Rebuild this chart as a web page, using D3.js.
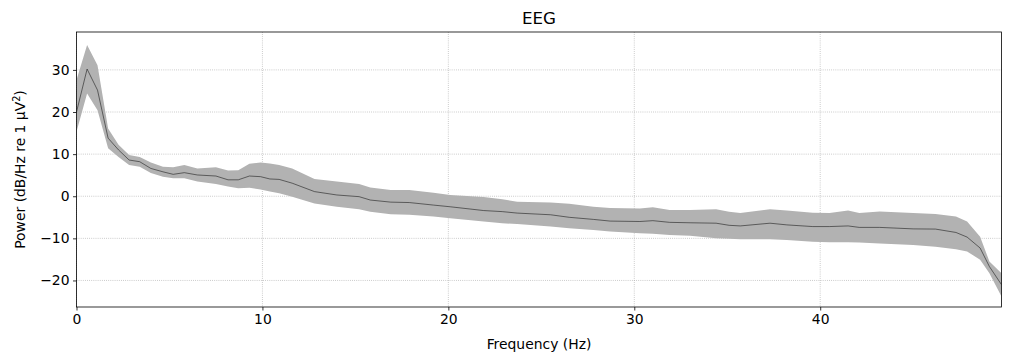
<!DOCTYPE html>
<html>
<head>
<meta charset="utf-8">
<script src="https://cdn.jsdelivr.net/npm/d3@7"></script>
<style>
  body { margin: 0; background: #fff; }
  svg text { font-family: "DejaVu Sans", sans-serif; fill: #000; }
</style>
</head>
<body>
<svg id="chart" width="1011" height="361"></svg>
<script>
// frequencies (Hz) where the curve was read
const freqs = [0, 0.57, 1.13, 1.7, 2.26, 2.83, 3.4, 4.0, 4.65, 5.2, 5.8, 6.5, 7.5, 8.15, 8.7, 9.3, 9.9, 10.4, 10.9, 11.6,
  12.8, 14.0, 15.2, 15.8, 16.9, 17.9, 19.2, 20.1, 21.9, 22.9, 23.7, 25.5, 26.5, 27.8, 28.7, 30.3, 31.0, 31.9, 33.0, 34.4,
  35.1, 35.7, 37.3, 38.2, 39.6, 40.5, 41.5, 42.1, 43.2, 45.0, 46.2, 47.3, 47.9, 48.6, 49.1, 49.75];

// mean power (dB)
const meanDb = [20, 30.2, 25.2, 13.8, 11, 8.6, 8.2, 6.6, 5.8, 5.2, 5.6, 5.05, 4.8, 3.9, 3.9, 4.8, 4.65, 4.1, 4.0, 3.1,
  1.1, 0.3, -0.1, -0.9, -1.4, -1.5, -2.1, -2.5, -3.4, -3.65, -4.0, -4.4, -5.0, -5.5, -5.9, -6.0, -5.8, -6.2, -6.3, -6.4,
  -6.9, -7.05, -6.4, -6.8, -7.2, -7.2, -7.05, -7.4, -7.4, -7.75, -7.8, -8.6, -9.7, -12.3, -16.7, -21.0];

// upper / lower edge of the shaded band (dB)
const upperDb = [27.6, 35.9, 31.1, 16.1, 12.2, 9.8, 9.3, 8.0, 7.0, 6.9, 7.4, 6.6, 6.9, 6.1, 6.2, 7.7, 8.0, 7.8, 7.4, 6.6,
  4.1, 3.5, 2.9, 2.1, 1.5, 1.5, 0.85, 0.3, -0.2, -0.7, -1.3, -1.5, -1.8, -2.5, -2.8, -2.9, -2.6, -3.25, -3.25, -3.1,
  -3.7, -4.0, -3.1, -3.4, -3.9, -4.0, -3.4, -4.0, -3.65, -4.0, -4.2, -4.8, -6.0, -9.6, -15.5, -18.3];

const lowerDb = [15.3, 24.4, 20.4, 11.4, 9.3, 7.4, 7.0, 5.5, 4.6, 4.3, 4.3, 3.5, 2.9, 2.3, 1.9, 2.0, 1.6, 1.1, 0.7, -0.1,
  -1.7, -2.5, -3.1, -3.7, -4.3, -4.4, -4.8, -5.2, -6.0, -6.4, -6.6, -7.2, -7.6, -8.0, -8.4, -8.8, -8.9, -9.2, -9.4, -10.0,
  -10.1, -10.2, -10.2, -10.4, -10.8, -10.9, -10.9, -11.0, -11.2, -11.55, -12.0, -12.6, -13.1, -15.1, -18.3, -23.8];

const xTicks = [0, 10, 20, 30, 40];
const yTicks = [-20, -10, 0, 10, 20, 30];

const data = freqs.map((f, i) => ({f, m: meanDb[i], hi: upperDb[i], lo: lowerDb[i]}));

const m = {l: 76.5, r: 1001.5, t: 32, b: 307};
const svg = d3.select('#chart');

const xS = d3.scaleLinear().domain([0, 49.75]).range([m.l, m.r]);
const yS = d3.scaleLinear().domain([-26.3, 39.0]).range([m.b, m.t]);

// grid
const grid = svg.append('g');
grid.selectAll('.vg').data(xTicks).join('line')
  .attr('x1', d => xS(d)).attr('x2', d => xS(d))
  .attr('y1', m.t).attr('y2', m.b);
grid.selectAll('.hg').data(yTicks).join('line')
  .attr('x1', m.l).attr('x2', m.r)
  .attr('y1', d => yS(d)).attr('y2', d => yS(d));
grid.selectAll('line')
  .attr('stroke', '#b0b0b0').attr('stroke-width', 0.8)
  .attr('stroke-dasharray', '0.8,1.32');

svg.append('clipPath').attr('id', 'clip')
  .append('rect').attr('x', m.l).attr('y', m.t).attr('width', m.r - m.l).attr('height', m.b - m.t);

const plot = svg.append('g').attr('clip-path', 'url(#clip)');

plot.append('path').datum(data)
  .attr('fill', '#b2b2b2')
  .attr('d', d3.area().x(d => xS(d.f)).y0(d => yS(d.lo)).y1(d => yS(d.hi)));

plot.append('path').datum(data)
  .attr('fill', 'none').attr('stroke', '#000').attr('stroke-width', 0.5)
  .attr('d', d3.line().x(d => xS(d.f)).y(d => yS(d.m)));

// axes
const xAxis = svg.append('g').attr('transform', `translate(0,${m.b})`)
  .call(d3.axisBottom(xS).tickValues(xTicks).tickFormat(d3.format('d')).tickSize(3.5).tickPadding(3.5));
const yAxis = svg.append('g').attr('transform', `translate(${m.l},0)`)
  .call(d3.axisLeft(yS).tickValues(yTicks).tickFormat(d => d < 0 ? '\u2212' + Math.abs(d) : d).tickSize(3.5).tickPadding(3.5));

[xAxis, yAxis].forEach(a => {
  a.select('.domain').remove();
  a.selectAll('line').attr('stroke', '#000').attr('stroke-width', 0.8);
  a.selectAll('text').style('font-size', '13.9px').attr('font-family', null);
});

svg.append('rect')
  .attr('x', m.l).attr('y', m.t).attr('width', m.r - m.l).attr('height', m.b - m.t)
  .attr('fill', 'none').attr('stroke', '#000').attr('stroke-width', 0.8);

svg.append('text')
  .attr('x', (m.l + m.r) / 2).attr('y', 24)
  .attr('text-anchor', 'middle').style('font-size', '16.7px')
  .text('EEG');

svg.append('text')
  .attr('x', (m.l + m.r) / 2).attr('y', 349)
  .attr('text-anchor', 'middle').style('font-size', '13.9px')
  .text('Frequency (Hz)');

const yl = svg.append('text')
  .attr('transform', `translate(25,${(m.t + m.b) / 2}) rotate(-90)`)
  .attr('text-anchor', 'middle').style('font-size', '13.9px');
yl.append('tspan').text('Power (dB/Hz re 1 \u03bcV');
yl.append('tspan').attr('dy', -5).style('font-size', '9.7px').text('2');
yl.append('tspan').attr('dy', 5).text(')');
</script>
</body>
</html>
